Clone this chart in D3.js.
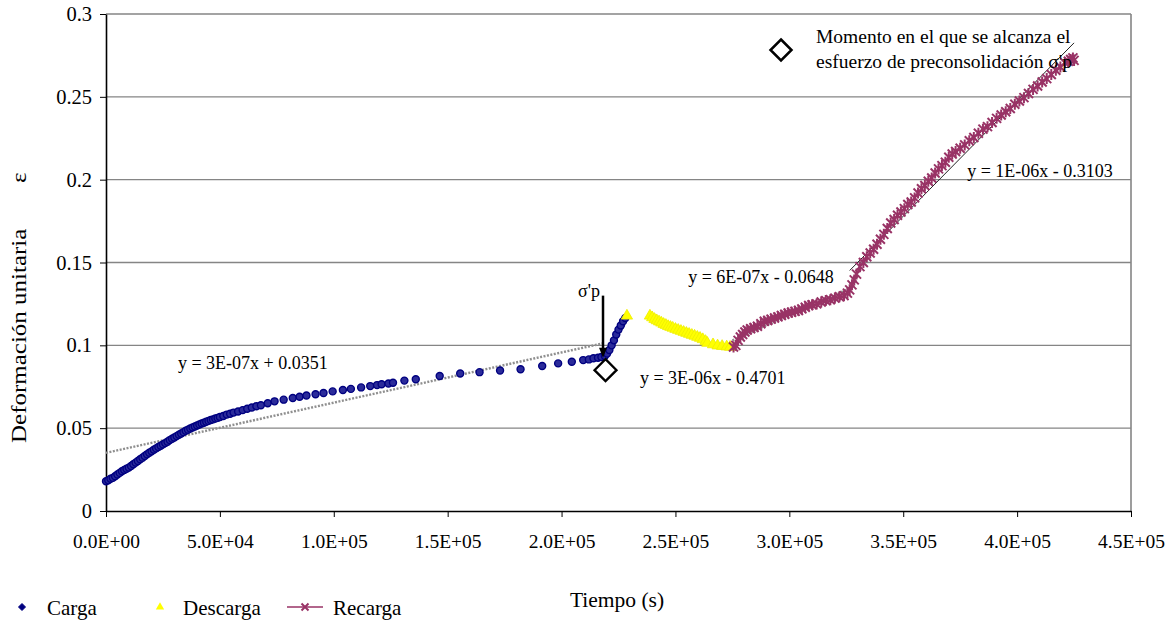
<!DOCTYPE html>
<html>
<head>
<meta charset="utf-8">
<script src="https://cdn.jsdelivr.net/npm/d3@7"></script>
<style>
body{margin:0;background:#fff}
svg text{font-family:"Liberation Serif","DejaVu Serif",serif}
</style>
</head>
<body>
<div id="chart"></div>
<script>
// data
const cargaT=[0,1000,2000,3000,4000,5000,6000,7000,8000,9000,10000,11000,12000,13000,14000,15000,16000,17000,18000,19000,20000,21000,22000,23000,24000,25000,26000,27000,28000,29000,30000,31000,32000,33000,34000,35000,36000,37000,38000,39000,40000,41000,42000,43000,44000,45000,46000,47000,48000,49000,50000,51500,53000,54500,56000,58000,60000,62000,64000,66000,68000,71000,74000,78000,82000,85000,88000,92000,95500,99500,104000,107500,112000,116000,119000,121000,124000,126000,131000,136000,146500,155500,164000,173000,182000,191500,198500,204500,209500,212000,214000,216000,217500,219000,220000,221000,222000,223000,224000,225000,226000,227000,228000]
const cargaE=[0.0180,0.0185,0.0195,0.0200,0.0210,0.0220,0.0230,0.0240,0.0248,0.0255,0.0262,0.0272,0.0282,0.0292,0.0302,0.0312,0.0322,0.0332,0.0342,0.0352,0.0360,0.0370,0.0378,0.0386,0.0394,0.0402,0.0410,0.0418,0.0428,0.0436,0.0444,0.0452,0.0460,0.0468,0.0476,0.0484,0.0491,0.0498,0.0504,0.0510,0.0516,0.0522,0.0528,0.0533,0.0539,0.0544,0.0549,0.0553,0.0558,0.0562,0.0567,0.0573,0.0582,0.0587,0.0594,0.0601,0.0609,0.0617,0.0625,0.0632,0.0638,0.0650,0.0662,0.0672,0.0682,0.0690,0.0697,0.0705,0.0712,0.0722,0.0730,0.0737,0.0746,0.0754,0.0760,0.0765,0.0770,0.0774,0.0787,0.0795,0.0815,0.0830,0.0838,0.0848,0.0856,0.0875,0.0891,0.0901,0.0911,0.0915,0.0922,0.0925,0.0930,0.0935,0.0950,0.0972,0.1000,0.1030,0.1065,0.1095,0.1120,0.1145,0.1165]

const descargaT=[228700,238800,239800,240800,241800,242800,243800,244800,245800,246800,247800,248800,250000,251200,252400,253600,254800,256000,257200,258400,259600,260800,262000,263200,264000,266500,268500,270500,272500,274000]
const descargaE=[0.1178,0.1178,0.1168,0.1158,0.1150,0.1143,0.1136,0.1128,0.1122,0.1115,0.1110,0.1105,0.1098,0.1092,0.1086,0.1080,0.1074,0.1068,0.1062,0.1057,0.1050,0.1044,0.1036,0.1025,0.1014,0.1005,0.0998,0.0995,0.0992,0.0990]

const recargaT=[275500,276500,277500,278500,279500,280500,281500,283000,284500,286000,287500,289000,290500,292000,293500,295000,296500,298000,299500,301000,302500,304000,305500,307000,308500,310000,312000,314000,316000,318000,320000,322000,324000,325500,326500,327500,328500,329500,331000,332500,334000,335500,337000,338500,340000,341500,343000,344500,346000,347500,349000,350500,352000,353500,355000,356500,358000,359500,361000,362500,364000,365500,367000,368500,370000,371500,373000,375000,377000,379000,381000,383000,385000,387000,389000,391000,393000,395000,397000,399000,401000,403000,405000,407000,409000,411000,413000,415000,417000,419000,421000,422500,423500,424500,425000]
const recargaE=[0.0990,0.1000,0.1030,0.1050,0.1065,0.1080,0.1093,0.1100,0.1108,0.1115,0.1130,0.1145,0.1150,0.1158,0.1165,0.1172,0.1180,0.1188,0.1195,0.1200,0.1205,0.1210,0.1220,0.1230,0.1240,0.1245,0.1250,0.1262,0.1270,0.1275,0.1285,0.1293,0.1300,0.1315,0.1335,0.1365,0.1395,0.1430,0.1475,0.1500,0.1535,0.1557,0.1580,0.1610,0.1640,0.1670,0.1705,0.1738,0.1760,0.1785,0.1805,0.1825,0.1850,0.1865,0.1890,0.1920,0.1945,0.1965,0.1990,0.2010,0.2040,0.2065,0.2085,0.2105,0.2135,0.2155,0.2170,0.2190,0.2210,0.2235,0.2255,0.2280,0.2305,0.2320,0.2345,0.2370,0.2390,0.2410,0.2430,0.2455,0.2475,0.2495,0.2520,0.2545,0.2565,0.2590,0.2610,0.2635,0.2660,0.2680,0.2705,0.2715,0.2725,0.2735,0.2720]

// trend lines: slope, intercept, drawn range, label and label anchor (t, e)
const trendSlope=[3.03e-7,2.56e-6,6.1e-7,1.395e-6]
const trendIntercept=[0.0351,-0.4701,-0.0648,-0.3103]
const trendFrom=[0,217000,275000,326500]
const trendTo=[219000,229000,327000,425000]
const trendLabel=["y = 3E-07x + 0.0351","y = 3E-06x - 0.4701","y = 6E-07x - 0.0648","y = 1E-06x - 0.3103"]
const trendLabelT=[31600,234400,255600,378100]
const trendLabelE=[0.0857,0.0767,0.1378,0.2018]

const xTicks=[0,50000,100000,150000,200000,250000,300000,350000,400000,450000]
const yTicks=[0,0.05,0.1,0.15,0.2,0.25,0.3]

// sigma'p point and arrow
const sigmaT=219300, sigmaE=0.0850
const arrowT=218200, arrowFromE=0.130, arrowToE=0.0925

const serif='"Liberation Serif","DejaVu Serif",serif'
const width=1176, height=620
const mLeft=106, mRight=1131, mTop=14, mBottom=511

const svg=d3.select("#chart").append("svg")
  .attr("width",width).attr("height",height)
  .attr("font-family",serif)

const x=d3.scaleLinear().domain([0,450000]).range([mLeft,mRight])
const y=d3.scaleLinear().domain([0,0.3]).range([mBottom,mTop])

// grid
svg.append("g").selectAll("line")
  .data(yTicks.slice(1))
  .join("line")
  .attr("x1",mLeft).attr("x2",mRight)
  .attr("y1",d=>y(d)).attr("y2",d=>y(d))
  .attr("stroke","#858585").attr("stroke-width",1.4)

svg.append("line").attr("x1",mRight).attr("x2",mRight).attr("y1",mTop).attr("y2",mBottom)
  .attr("stroke","#858585").attr("stroke-width",1.6)

function sci(d){
  if(d===0) return "0.0E+00"
  const e=Math.floor(Math.log10(d))
  return (d/Math.pow(10,e)).toFixed(1)+"E+"+String(e).padStart(2,"0")
}

const xAxis=svg.append("g")
  .attr("transform",`translate(0,${mBottom})`)
  .call(d3.axisBottom(x).tickValues(xTicks).tickFormat(sci).tickSize(6).tickSizeOuter(0))
xAxis.attr("font-family",serif)
xAxis.select(".domain").attr("stroke","#000").attr("stroke-width",1.6)
xAxis.selectAll("text").attr("font-size",19.5).attr("y",37).attr("dy",0).attr("fill","#000")

const yAxis=svg.append("g")
  .attr("transform",`translate(${mLeft},0)`)
  .call(d3.axisLeft(y).tickValues(yTicks).tickFormat(d=>String(+d.toFixed(2))).tickSize(6).tickSizeOuter(0))
yAxis.attr("font-family",serif)
yAxis.select(".domain").attr("stroke","#000").attr("stroke-width",1.6)
yAxis.selectAll("text").attr("font-size",20.5).attr("x",-14).attr("fill","#000")

// trend lines
const trendIdx=d3.range(trendSlope.length)
svg.append("g").selectAll("line")
  .data(trendIdx)
  .join("line")
  .attr("x1",i=>x(trendFrom[i]))
  .attr("x2",i=>x(trendTo[i]))
  .attr("y1",i=>y(trendSlope[i]*trendFrom[i]+trendIntercept[i]))
  .attr("y2",i=>y(trendSlope[i]*trendTo[i]+trendIntercept[i]))
  .attr("stroke",i=>i===3?"#222":"#8f8f8f")
  .attr("stroke-width",i=>i===3?1:2.4)
  .attr("stroke-dasharray",i=>i===3?null:"2,1.5")

// Carga
svg.append("g").selectAll("circle")
  .data(cargaT)
  .join("circle")
  .attr("cx",d=>x(d))
  .attr("cy",(d,i)=>y(cargaE[i]))
  .attr("r",3.5)
  .attr("fill","#2b2b9a")
  .attr("stroke","#000080")
  .attr("stroke-width",1.4)

// Descarga
const tri=d3.symbol().type(d3.symbolTriangle).size(55)
svg.append("g").selectAll("path")
  .data(descargaT)
  .join("path")
  .attr("transform",(d,i)=>`translate(${x(d)},${y(descargaE[i])})`)
  .attr("d",tri)
  .attr("fill","#ffff00")
  .attr("stroke","#eeee00")
  .attr("stroke-width",0.8)

// Recarga
const plum="#993366"
svg.append("path")
  .datum(recargaT)
  .attr("d",d3.line().x(d=>x(d)).y((d,i)=>y(recargaE[i])))
  .attr("fill","none").attr("stroke",plum).attr("stroke-width",1.5)

const star="M-4.5,-4.5L4.5,4.5M-4.5,4.5L4.5,-4.5M0,-5.5L0,5.5"
svg.append("g").selectAll("path")
  .data(recargaT)
  .join("path")
  .attr("transform",(d,i)=>`translate(${x(d)},${y(recargaE[i])})`)
  .attr("d",star)
  .attr("stroke",plum).attr("stroke-width",2).attr("fill","none")

// trend labels
svg.append("g").selectAll("text")
  .data(trendIdx)
  .join("text")
  .attr("x",i=>x(trendLabelT[i]))
  .attr("y",i=>y(trendLabelE[i]))
  .attr("font-size",18)
  .text(i=>trendLabel[i])

// sigma'p marker + arrow
const diamond="M0,-11L11,0L0,11L-11,0Z"
svg.append("path")
  .attr("transform",`translate(${x(sigmaT)},${y(sigmaE)})`)
  .attr("d",diamond).attr("fill","#fff").attr("stroke","#000").attr("stroke-width",2.3)

svg.append("line")
  .attr("x1",x(arrowT)).attr("x2",x(arrowT))
  .attr("y1",y(arrowFromE)).attr("y2",y(arrowToE)-8)
  .attr("stroke","#000").attr("stroke-width",2.5)
svg.append("path")
  .attr("transform",`translate(${x(arrowT)},${y(arrowToE)})`)
  .attr("d","M0,0L-4,-10L4,-10Z").attr("fill","#000")
svg.append("text")
  .attr("x",x(arrowT)-3).attr("y",y(arrowFromE)+1)
  .attr("text-anchor","end").attr("font-size",18)
  .text("σ'p")

// top-right legend
svg.append("path")
  .attr("transform","translate(781,50)")
  .attr("d","M0,-10.5L10.5,0L0,10.5L-10.5,0Z").attr("fill","#fff").attr("stroke","#000").attr("stroke-width",2.5)
svg.append("text").attr("x",816).attr("y",43).attr("font-size",19.5).text("Momento en el que se alcanza el")
svg.append("text").attr("x",816).attr("y",68).attr("font-size",19.5).text("esfuerzo de preconsolidación σ'p")

// axis titles
svg.append("text")
  .attr("x",617).attr("y",607)
  .attr("text-anchor","middle").attr("font-size",21.5)
  .text("Tiempo (s)")

const yt=svg.append("g").attr("transform","translate(26,443) rotate(-90)")
  .append("text")
  .attr("transform","scale(1.25,1)")
  .attr("font-size",20)
yt.append("tspan").attr("x",0).text("Deformación unitaria")
yt.append("tspan").attr("x",208).text("ε")

// bottom legend
const lg=svg.append("g").attr("font-size",21)
lg.append("path").attr("transform","translate(22,607)")
  .attr("d","M0,-3.5L3.5,0L0,3.5L-3.5,0Z").attr("fill","#000080").attr("stroke","#000080").attr("stroke-width",1)
lg.append("text").attr("x",47).attr("y",615).text("Carga")
lg.append("path").attr("transform","translate(160,607)")
  .attr("d",d3.symbol().type(d3.symbolTriangle).size(30)).attr("fill","#ffff00")
lg.append("text").attr("x",183).attr("y",615).text("Descarga")
lg.append("line").attr("x1",287).attr("x2",323).attr("y1",607).attr("y2",607).attr("stroke",plum).attr("stroke-width",1.5)
lg.append("path").attr("transform","translate(305,607)").attr("d","M-3.5,-3.5L3.5,3.5M-3.5,3.5L3.5,-3.5")
  .attr("stroke",plum).attr("stroke-width",2)
lg.append("text").attr("x",333).attr("y",615).text("Recarga")
</script>
</body>
</html>
